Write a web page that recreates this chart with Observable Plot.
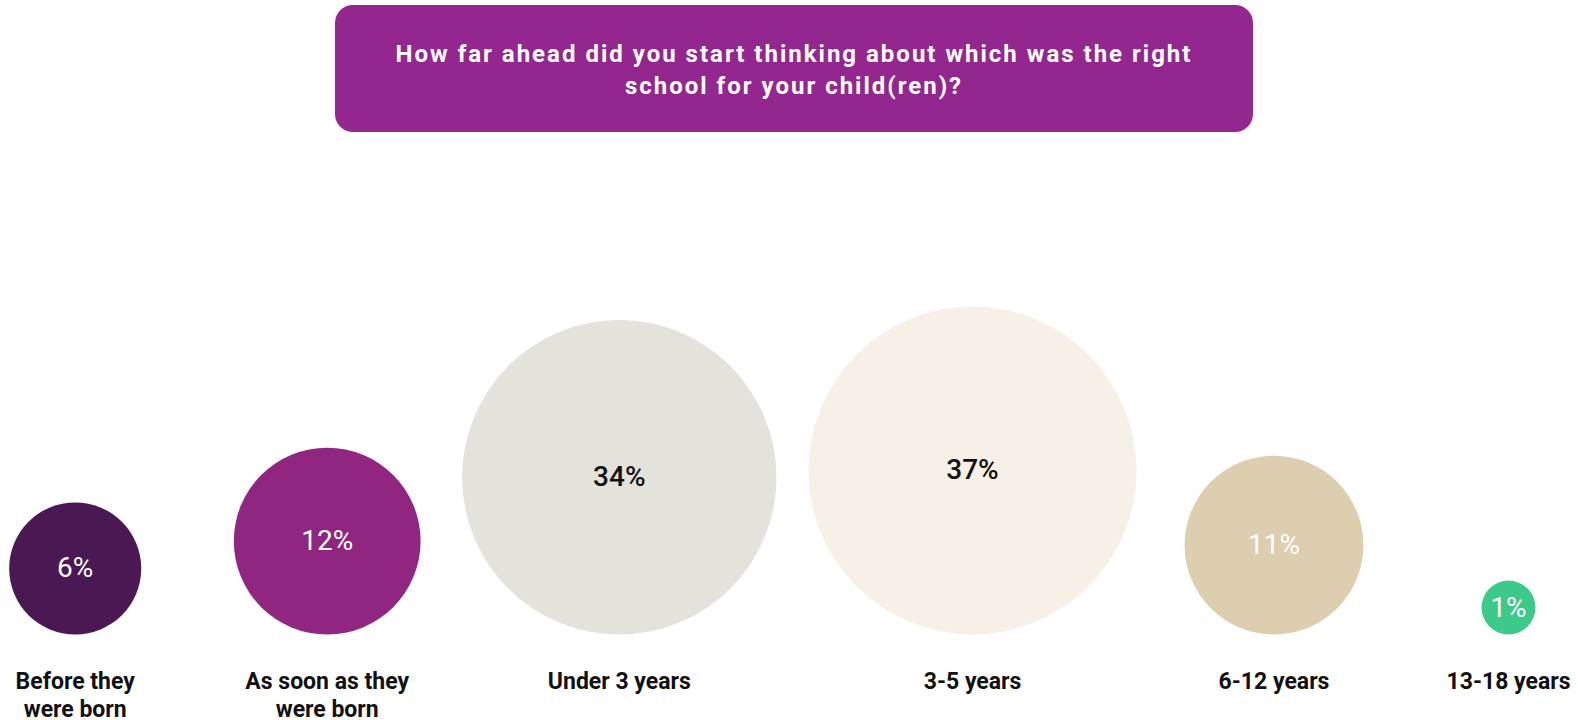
<!DOCTYPE html>
<html><head><meta charset="utf-8">
<script src="https://cdn.jsdelivr.net/npm/d3@7"></script>
<script src="https://cdn.jsdelivr.net/npm/@observablehq/plot@0.6"></script>
<style>
body{margin:0;background:#fff;font-family:Roboto,"Noto Sans",sans-serif;width:1578px;height:720px;overflow:hidden;}
#head{height:145px;position:relative;}
#title{position:absolute;left:335px;top:5px;width:918px;height:127px;box-sizing:border-box;padding-top:3px;border-radius:18px;background:#93278F;color:#fff;font-weight:700;font-size:24px;letter-spacing:2px;line-height:32px;text-align:center;display:flex;align-items:center;justify-content:center;}
#chart svg{display:block;}
</style></head><body>
<div id="head"><div id="title"><div>How far ahead did you start thinking about which was the right<br>school for your child(ren)?</div></div></div>
<div id="chart"></div>
<script>
const categories = ["Before they were born", "As soon as they were born", "Under 3 years", "3-5 years", "6-12 years", "13-18 years"];
const labels = ["Before they\nwere born", "As soon as they\nwere born", "Under 3 years", "3-5 years", "6-12 years", "13-18 years"];
const values = [6, 12, 34, 37, 11, 1];
const colors = ["#4A1852", "#90267F", "#E3E3DC", "#F6F0E6", "#DDCEAF", "#3EC98C"];
const darkText = [false, false, true, true, false, false];

const data = categories.map((c, i) => ({category: c, label: labels[i], value: values[i], color: colors[i], dark: darkText[i]}));

const chart = Plot.plot({
  width: 1578,
  height: 575,
  margin: 0,
  x: {type: "ordinal", domain: categories, range: [74.7, 326.7, 618.8, 972, 1273.5, 1508], axis: null},
  y: {type: "sqrt", domain: [0, 37], range: [489, 325], axis: null},
  r: {type: "sqrt", domain: [0, 37], range: [0, 164]},
  color: {type: "identity"},
  style: {fontFamily: "Roboto, 'Noto Sans', sans-serif", background: "#fff"},
  marks: [
    Plot.dot(data, {x: "category", y: "value", r: "value", fill: "color"}),
    Plot.text(data, {filter: d => !d.dark, x: "category", y: "value", text: d => d.value + "%", fill: "#ffffff", fontSize: 28, fontWeight: 400}),
    Plot.text(data, {filter: d => d.dark, x: "category", y: "value", text: d => d.value + "%", fill: "#111111", fontSize: 28, fontWeight: 500}),
    Plot.text(data, {x: "category", text: "label", frameAnchor: "bottom", lineAnchor: "top", dy: -51, fontSize: 23, fontWeight: 700, lineHeight: 1.2, fill: "#111111"})
  ]
});
document.getElementById("chart").appendChild(chart);
</script>
</body></html>
